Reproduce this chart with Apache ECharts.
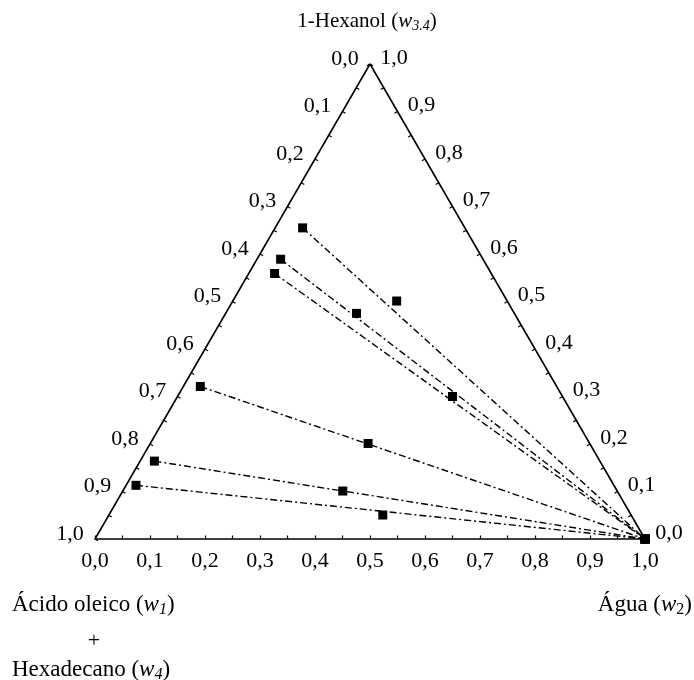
<!DOCTYPE html>
<html>
<head>
<meta charset="utf-8">
<script src="https://cdn.jsdelivr.net/npm/echarts@6/dist/echarts.min.js"></script>
<style>
  html, body { margin: 0; padding: 0; background: #fff; }
  #chart { width: 694px; height: 680px; }
</style>
</head>
<body>
<div id="chart"></div>
<script>
// ternary compositions: w2 = water, w34 = 1-hexanol (rest = oleic acid + hexadecane)
const organicWater = [0.050, 0.043, 0.047, 0.031, 0.026, 0.018]
const organicHexanol = [0.655, 0.589, 0.559, 0.321, 0.164, 0.113]
const feedWater = [0.298, 0.238, 0.500, 0.396, 0.400, 0.498]
const feedHexanol = [0.501, 0.475, 0.300, 0.201, 0.101, 0.0505]
const aqueousWater = [1.0, 1.0, 1.0, 1.0, 1.0, 1.0]
const aqueousHexanol = [0.0, 0.0, 0.0, 0.0, 0.0, 0.0]

const tickValues = [0, 0.1, 0.2, 0.3, 0.4, 0.5, 0.6, 0.7, 0.8, 0.9, 1.0]
const tickLabels = ['0,0', '0,1', '0,2', '0,3', '0,4', '0,5', '0,6', '0,7', '0,8', '0,9', '1,0']
const minorTickValues = [0.05, 0.15, 0.25, 0.35, 0.45, 0.55, 0.65, 0.75, 0.85, 0.95]

const H = Math.sqrt(3) / 2
const FONT = '"Liberation Serif", "Times New Roman", serif'
const TICK_FONT = 22

function toXY(w2, w34) {
  return [w2 + w34 / 2, w34 * H]
}

// side ticks: left side carries w1+w4 (0 at top), right side carries w3,4 (0 at bottom)
function sidePoint(side, v) {
  return side === 'left' ? toXY(0, 1 - v) : toXY(1 - v, v)
}

function sideTicks(side) {
  const nx = side === 'left' ? 0.866 : -0.866
  const ny = 0.5
  const dx = side === 'left' ? -25 : 24
  const dy = side === 'left' ? -5 : -6
  return function (params, api) {
    const v = api.value(0)
    const idx = api.value(1)
    const p = api.coord(sidePoint(side, v))
    const children = [{
      type: 'line',
      shape: { x1: p[0], y1: p[1], x2: p[0] + nx * 3.5, y2: p[1] + ny * 3.5 },
      style: { stroke: '#000', lineWidth: 1.2 }
    }]
    if (idx >= 0) {
      children.push({
        type: 'text',
        x: p[0] + dx,
        y: p[1] + dy,
        style: {
          text: tickLabels[idx],
          fill: '#000',
          fontSize: TICK_FONT,
          fontFamily: FONT,
          align: 'center',
          verticalAlign: 'middle'
        }
      })
    }
    return { type: 'group', children }
  }
}

const tickData = tickValues.map((v, i) => [v, i]).concat(minorTickValues.map((v) => [v, -1]))

const series = []

series.push({
  type: 'line',
  data: [toXY(0, 0), toXY(0, 1), toXY(1, 0)],
  symbol: 'none',
  lineStyle: { color: '#000', width: 1.6 },
  z: 3,
  silent: true
})

organicWater.forEach((w, i) => {
  series.push({
    type: 'line',
    data: [toXY(w, organicHexanol[i]), toXY(aqueousWater[i], aqueousHexanol[i])],
    symbol: 'none',
    lineStyle: { color: '#000', width: 1.4, type: [7, 3, 2, 3] },
    z: 2,
    silent: true
  })
})

series.push({
  type: 'scatter',
  symbol: 'rect',
  symbolSize: 9,
  itemStyle: { color: '#000', opacity: 1 },
  data: organicWater.map((w, i) => toXY(w, organicHexanol[i]))
    .concat(feedWater.map((w, i) => toXY(w, feedHexanol[i])))
    .concat(aqueousWater.map((w, i) => toXY(w, aqueousHexanol[i]))),
  z: 5
})

series.push({ type: 'custom', renderItem: sideTicks('left'), data: tickData, clip: false, silent: true, z: 4 })
series.push({ type: 'custom', renderItem: sideTicks('right'), data: tickData, clip: false, silent: true, z: 4 })

function titleStyle(size) {
  return {
    fontSize: size,
    fontFamily: FONT,
    fill: '#000',
    rich: {
      i: { fontSize: size, fontFamily: FONT, fontStyle: 'italic', fill: '#000' },
      si: { fontSize: Math.round(size * 0.68), fontFamily: FONT, fontStyle: 'italic', fill: '#000', padding: [10, 0, 0, 0] },
      s: { fontSize: Math.round(size * 0.68), fontFamily: FONT, fill: '#000', padding: [10, 0, 0, 0] }
    }
  }
}

const chart = echarts.init(document.getElementById('chart'))
chart.setOption({
  animation: false,
  grid: { left: 95, top: 64, width: 550, height: 475 },
  xAxis: {
    type: 'value',
    min: 0,
    max: 1,
    interval: 0.1,
    axisLine: { lineStyle: { color: '#000', width: 1.6 } },
    axisTick: { inside: true, length: 3.5, lineStyle: { color: '#000', width: 1.2 } },
    minorTick: { show: true, splitNumber: 2, length: 3.5, lineStyle: { color: '#000', width: 1.2 } },
    splitLine: { show: false },
    axisLabel: {
      color: '#000',
      fontSize: TICK_FONT,
      fontFamily: FONT,
      margin: 11,
      formatter: (v) => tickLabels[Math.round(v * 10)]
    }
  },
  yAxis: { type: 'value', min: 0, max: H, show: false },
  graphic: [
    { type: 'text', x: 367, y: 21, style: Object.assign({ text: '1-Hexanol ({i|w}{si|3.4})', align: 'center', verticalAlign: 'middle' }, titleStyle(21)) },
    { type: 'text', x: 12, y: 605, style: Object.assign({ text: 'Ácido oleico ({i|w}{si|1})', align: 'left', verticalAlign: 'middle' }, titleStyle(23)) },
    { type: 'text', x: 94, y: 641, style: Object.assign({ text: '+', align: 'center', verticalAlign: 'middle' }, titleStyle(22)) },
    { type: 'text', x: 12, y: 670, style: Object.assign({ text: 'Hexadecano ({i|w}{si|4})', align: 'left', verticalAlign: 'middle' }, titleStyle(23)) },
    { type: 'text', x: 692, y: 605, style: Object.assign({ text: 'Água ({i|w}{s|2})', align: 'right', verticalAlign: 'middle' }, titleStyle(23)) }
  ],
  series
})
</script>
</body>
</html>
